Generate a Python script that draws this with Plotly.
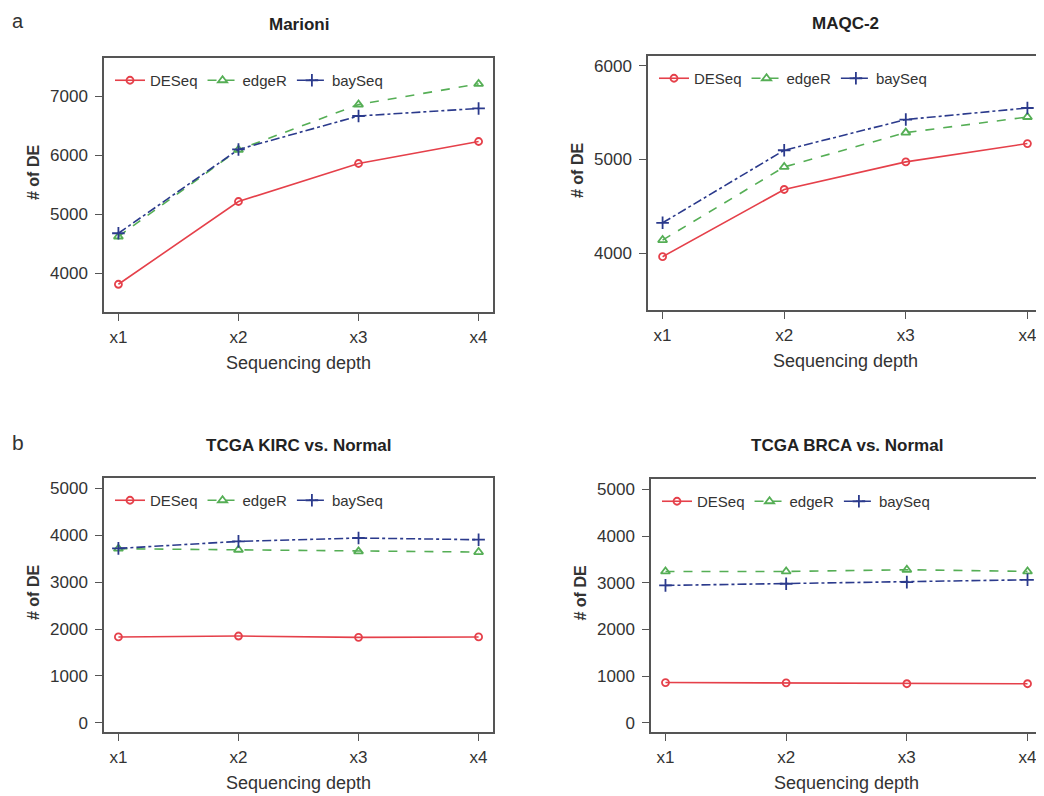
import plotly.graph_objects as go

depth_labels = ["x1", "x2", "x3", "x4"]
depth_pos = [1, 2, 3, 4]

methods = ["DESeq", "edgeR", "baySeq"]

marioni_deseq = [3815, 5218, 5862, 6235]
marioni_edger = [4625, 6095, 6862, 7211]
marioni_bayseq = [4680, 6100, 6667, 6795]

maqc_deseq = [3965, 4681, 4975, 5170]
maqc_edger = [4142, 4921, 5287, 5453]
maqc_bayseq = [4326, 5099, 5426, 5549]

kirc_deseq = [1830, 1850, 1822, 1830]
kirc_edger = [3715, 3693, 3657, 3643]
kirc_bayseq = [3721, 3871, 3943, 3907]

brca_deseq = [860, 855, 835, 835]
brca_edger = [3243, 3243, 3279, 3243]
brca_bayseq = [2943, 2979, 3014, 3064]

panels = [
    dict(title="Marioni", data=[marioni_deseq, marioni_edger, marioni_bayseq],
         yrange=[3345, 7650], ytick=[4000, 5000, 6000, 7000]),
    dict(title="MAQC-2", data=[maqc_deseq, maqc_edger, maqc_bayseq],
         yrange=[3397, 6103], ytick=[4000, 5000, 6000]),
    dict(title="TCGA KIRC vs. Normal", data=[kirc_deseq, kirc_edger, kirc_bayseq],
         yrange=[-200, 5225], ytick=[0, 1000, 2000, 3000, 4000, 5000]),
    dict(title="TCGA BRCA vs. Normal", data=[brca_deseq, brca_edger, brca_bayseq],
         yrange=[-200, 5225], ytick=[0, 1000, 2000, 3000, 4000, 5000]),
]

# page body has an 8px margin; size the figure so it fits the 1044x796 window
OFF = 8
W, H = 1044 - OFF, 796 - OFF
# plot boxes in window pixels: (left, right, top, bottom)
boxes = [(104, 493, 58, 312), (648, 1042, 56, 310), (104, 493, 478, 732), (651, 1042, 479, 732)]


def px(x):
    return (x - OFF) / W


def py(y):
    return 1 - (y - OFF) / H


colors = ["#E5404A", "#55AE55", "#2B3A8C"]
dashes = ["solid", "dash", "dashdot"]
symbols = ["circle-open", "triangle-up-open", "cross-thin-open"]
msizes = [7, 8, 9]

FONT = "Liberation Sans, Arial, sans-serif"
fig = go.Figure()
layout = {}
annotations = []

for i, p in enumerate(panels):
    l, r, t, b = boxes[i]
    idx = "" if i == 0 else str(i + 1)
    xa, ya = "x" + idx, "y" + idx
    leg = "legend" + idx
    for j, m in enumerate(methods):
        fig.add_trace(go.Scatter(
            x=depth_pos, y=p["data"][j], name=m, mode="lines+markers",
            xaxis=xa, yaxis=ya, legend=leg,
            line=dict(color=colors[j], width=1.6, dash=dashes[j]),
            marker=dict(symbol=symbols[j], size=msizes[j], color=colors[j],
                        line=dict(color=colors[j], width=1.8)),
        ))
    axis_common = dict(showline=True, mirror=True, linecolor="#555555", linewidth=1.5,
                       ticks="outside", ticklen=7, tickcolor="#555555", tickwidth=1.2,
                       showgrid=False, zeroline=False,
                       tickfont=dict(family=FONT, size=17, color="#333333"))
    layout["xaxis" + idx] = dict(domain=[px(l), px(r)], range=[0.88, 4.12],
                                 tickvals=depth_pos, ticktext=depth_labels,
                                 anchor=ya, ticklabelstandoff=2, **axis_common)
    layout["yaxis" + idx] = dict(domain=[py(b), py(t)], range=p["yrange"],
                                 tickvals=p["ytick"], ticktext=[str(v) for v in p["ytick"]],
                                 anchor=xa, ticklabelstandoff=4, **axis_common)
    layout[leg] = dict(x=px(l + 6), y=py(t + 6), xanchor="left", yanchor="top",
                       orientation="h", bgcolor="rgba(0,0,0,0)",
                       font=dict(family=FONT, size=15, color="#333333"),
                       itemwidth=30, tracegroupgap=0)
    cx = (l + r) / 2
    annotations.append(dict(text="<b>" + p["title"] + "</b>", x=px(cx), y=py(t - 33),
                            xref="paper", yref="paper", showarrow=False,
                            xanchor="center", yanchor="middle",
                            font=dict(family=FONT, size=17, color="#222222")))
    annotations.append(dict(text="Sequencing depth", x=px(cx), y=py(b + 51),
                            xref="paper", yref="paper", showarrow=False,
                            xanchor="center", yanchor="middle",
                            font=dict(family=FONT, size=18, color="#333333")))
    annotations.append(dict(text="<b># of DE</b>", x=px(l - 71), y=py((t + b) / 2 - 12),
                            xref="paper", yref="paper", showarrow=False, textangle=-90,
                            xanchor="center", yanchor="middle",
                            font=dict(family=FONT, size=16, color="#333333")))

annotations.append(dict(text="a", x=px(18), y=py(21), xref="paper", yref="paper",
                        showarrow=False, xanchor="center", yanchor="middle",
                        font=dict(family=FONT, size=20, color="#333333")))
annotations.append(dict(text="b", x=px(18), y=py(443), xref="paper", yref="paper",
                        showarrow=False, xanchor="center", yanchor="middle",
                        font=dict(family=FONT, size=21, color="#333333")))

fig.update_layout(width=W, height=H, margin=dict(l=0, r=0, t=0, b=0),
                  paper_bgcolor="white", plot_bgcolor="white",
                  annotations=annotations, **layout)
fig.write_html("out.html")
